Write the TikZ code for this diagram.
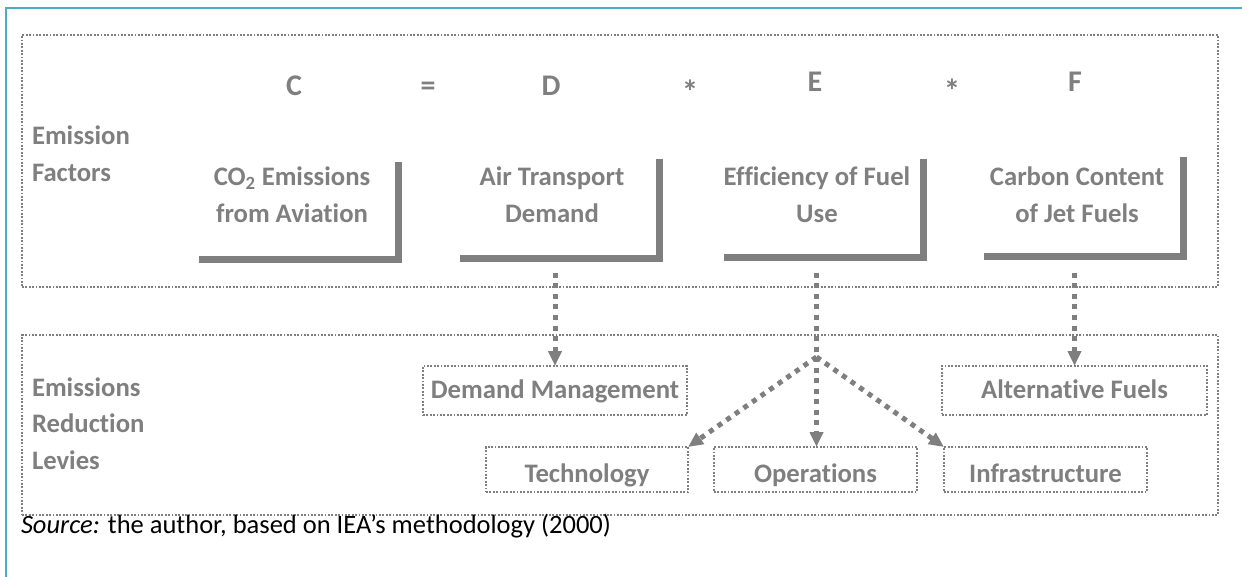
\documentclass[tikz,border=0pt]{standalone}
\usepackage{fontspec}
\setmainfont{Carlito}[Ligatures={TeX,NoCommon}]
\usetikzlibrary{arrows.meta,fit}
\definecolor{tg}{HTML}{7F7F7F}
\definecolor{framecol}{HTML}{4BACC6}
\begin{document}
\begin{tikzpicture}[x=1pt,y=-1pt,
  every node/.style={inner sep=0pt, outer sep=0pt},
  graytext/.style={text=tg, font=\fontsize{26.7}{36.5}\selectfont\bfseries},
  letter/.style={text=tg, font=\fontsize{30}{32}\selectfont\bfseries, anchor=base},
  star/.style={text=tg, font=\fontsize{33}{35}\selectfont\bfseries, anchor=base},
  groupbox/.style={draw=tg, line width=1.8pt, dash pattern=on 1.8pt off 1.6pt},
  levyone/.style={groupbox, graytext, text height=16pt, text depth=1pt},
  levytwo/.style={groupbox, graytext, text height=26pt, text depth=1pt},
  bracketline/.style={draw=tg, line width=7pt, line cap=butt, line join=miter},
  flow/.style={draw=tg, line width=5pt, dash pattern=on 5pt off 5.5pt, -{Triangle[length=15pt,width=13pt]}},
]
\useasboundingbox (0,0) rectangle (1242,577);
% frame
\draw[framecol, line width=2.5pt] (1250,8) -- (6,8) -- (6,590);

% group boxes
\node[groupbox, minimum width=1196pt, minimum height=252pt] (factors) at (620,161) {};
\node[groupbox, minimum width=1196pt, minimum height=180pt] (levies) at (620,425) {};

% left labels
\node[graytext, anchor=base west] (lf) at (32,145) {\parbox[t]{200pt}{Emission\\Factors}};
\node[graytext, anchor=base west] (ll) at (32,396) {\parbox[t]{200pt}{Emissions\\Reduction\\Levies}};

% equation letters
\node[letter] (lC) at (294,96) {C};
\node[letter] (lEq) at (428,96) {=};
\node[letter] (lD) at (551,96) {D};
\node[star] (lM1) at (690,104) {*};
\node[letter] (lE) at (815,92) {E};
\node[star] (lM2) at (952,103) {*};
\node[letter] (lF) at (1075,92) {F};

% brackets
\node[fit={(199,162) (398.5,259.5)}] (bC) {};
\node[fit={(460,159) (659,258.5)}] (bD) {};
\node[fit={(724,159) (923,258)}] (bE) {};
\node[fit={(984,157) (1183,257)}] (bF) {};
\foreach \b in {bC,bD,bE,bF}
  \draw[bracketline] (\b.north east) -- (\b.south east) -- (\b.south west);

% bracket texts
\node[graytext, anchor=base] (tC) at (292,186) {\parbox[t]{240pt}{\centering CO\textsubscript{2} Emissions\\from Aviation}};
\node[graytext, anchor=base] (tD) at (552,186) {\parbox[t]{240pt}{\centering Air Transport\\Demand}};
\node[graytext, anchor=base] (tE) at (817,186) {\parbox[t]{240pt}{\centering Efficiency of Fuel\\Use}};
\node[graytext, anchor=base] (tF) at (1077,186) {\parbox[t]{240pt}{\centering Carbon Content\\of Jet Fuels}};

% levy boxes
\node[levyone, minimum width=264pt, minimum height=49pt] (dm) at (555,390.5) {Demand Management};
\node[levyone, minimum width=265pt, minimum height=49pt] (af) at (1074.5,390.5) {Alternative Fuels};
\node[levytwo, minimum width=202pt, minimum height=45pt] (tech) at (587,469.5) {Technology};
\node[levytwo, minimum width=203pt, minimum height=45pt] (ops) at (815.5,469.5) {Operations};
\node[levytwo, minimum width=203pt, minimum height=45pt] (infra) at (1045.5,469.5) {Infrastructure};

% connectors
\coordinate (aD) at (555,273);
\coordinate (aE) at (816.5,273);
\coordinate (J) at (816.5,357);
\coordinate (aF) at (1074.5,273);
\draw[flow] (aD) -- (dm.north);
\draw[flow] (aE) -- (aE |- ops.north);
\draw[flow] (J) -- (tech.north east);
\draw[flow] (J) -- (infra.north west);
\draw[flow] (aF) -- (af.north);

% source
\node[anchor=base west, font=\fontsize{26.5}{30}\selectfont, text=black] (src) at (21,533) {\textit{Source:} the author, based on IEA’s methodology (2000)};
\end{tikzpicture}
\end{document}
